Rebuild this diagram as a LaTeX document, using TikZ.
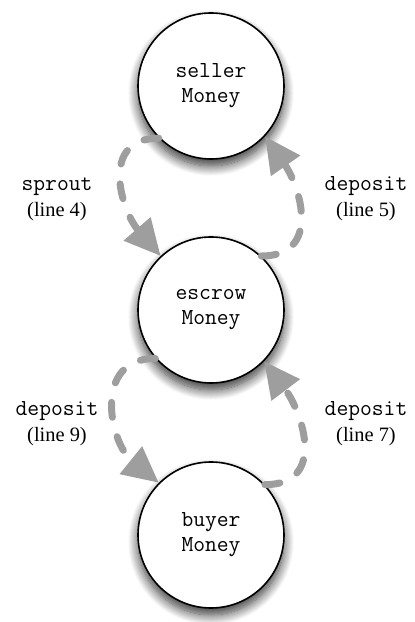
\documentclass[tikz,border=0pt]{standalone}
\usepackage{fontspec}
\setmainfont{Liberation Serif}
\usepackage{tikz}
\usetikzlibrary{arrows.meta,shadows.blur}
\definecolor{flowgray}{RGB}{158,158,158}
\newcommand{\opname}[1]{{\ttfamily\fontsize{23}{26}\selectfont #1}}

\begin{document}
\begin{tikzpicture}[x=1bp,y=1bp,
		account/.style={draw,circle,fill=white,line width=1.6bp,minimum size=146bp,inner sep=0pt,
			align=center,font=\ttfamily\fontsize{23}{25}\selectfont,
			blur shadow={shadow xshift=0bp,shadow yshift=-7bp,shadow blur radius=10bp,
				shadow blur steps=14,shadow opacity=80}},
		flow/.style={draw=flowgray,line width=7bp,line cap=round,dash pattern=on 15bp off 20bp,
			-{Triangle[length=36bp,width=34bp]}},
		callsite/.style={align=center,font=\fontsize{20.5}{26}\selectfont}]
			\useasboundingbox (0,0) rectangle (414,622);

			\node[account] (seller)at(211,536) {seller\\Money};
			\node[account] (escrow)at(211,312) {escrow\\Money};
			\node[account] (buyer)at(211,87) {buyer\\Money};

			\node[callsite] (sprout4)at(57,423) {\opname{sprout}\\(line 4)};
			\node[callsite] (deposit5)at(366,423) {\opname{deposit}\\(line 5)};
			\node[callsite] (deposit9)at(57,198) {\opname{deposit}\\(line 9)};
			\node[callsite] (deposit7)at(366,198) {\opname{deposit}\\(line 7)};

			\draw[flow] (seller.225) to[out=180,in=131,looseness=1.3] (escrow.133);
			\draw[flow] (escrow.47) to[out=0,in=305,looseness=1.3] (seller.317);
			\draw[flow] (escrow.221) to[out=180,in=141,looseness=1.3] (buyer.135);
			\draw[flow] (buyer.43) to[out=0,in=307,looseness=1.3] (escrow.316);
		\end{tikzpicture}
\end{document}
